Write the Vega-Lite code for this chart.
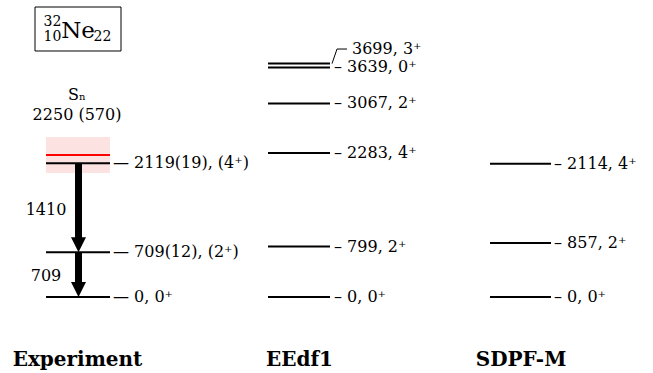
{
  "$schema": "https://vega.github.io/schema/vega-lite/v6.json",
  "width": 653,
  "height": 373,
  "padding": 0,
  "autosize": {"type": "fit", "contains": "padding"},
  "config": {"view": {"stroke": null}},
  "background": "white",
  "layer": [
    {
      "data": {"values": [{"x0": 46, "x1": 110, "lo": 1965, "hi": 2535}]},
      "mark": {"type": "rect", "color": "#fde2e2"},
      "encoding": {
        "x": {"field": "x0", "type": "quantitative", "scale": {"domain": [0, 653], "nice": false, "zero": false}, "axis": null},
        "x2": {"field": "x1"},
        "y": {"field": "lo", "type": "quantitative", "scale": {"domain": [-1204, 4707], "nice": false, "zero": false}, "axis": null},
        "y2": {"field": "hi"}
      }
    },
    {
      "data": {"values": [
        {"model": "Experiment", "x0": 46, "x1": 110, "energy": 0},
        {"model": "Experiment", "x0": 46, "x1": 110, "energy": 709},
        {"model": "Experiment", "x0": 46, "x1": 110, "energy": 2119},
        {"model": "EEdf1", "x0": 268, "x1": 330, "energy": 0},
        {"model": "EEdf1", "x0": 268, "x1": 330, "energy": 799},
        {"model": "EEdf1", "x0": 268, "x1": 330, "energy": 2283},
        {"model": "EEdf1", "x0": 268, "x1": 330, "energy": 3067},
        {"model": "EEdf1", "x0": 268, "x1": 330, "energy": 3639},
        {"model": "EEdf1", "x0": 268, "x1": 330, "energy": 3699},
        {"model": "SDPF-M", "x0": 490, "x1": 551, "energy": 0},
        {"model": "SDPF-M", "x0": 490, "x1": 551, "energy": 857},
        {"model": "SDPF-M", "x0": 490, "x1": 551, "energy": 2114}
      ]},
      "mark": {"type": "rule", "color": "black", "strokeWidth": 2},
      "encoding": {
        "x": {"field": "x0", "type": "quantitative"},
        "x2": {"field": "x1"},
        "y": {"field": "energy", "type": "quantitative"}
      }
    },
    {
      "data": {"values": [{"x0": 46, "x1": 110, "energy": 2250}]},
      "mark": {"type": "rule", "color": "#ff0000", "strokeWidth": 2},
      "encoding": {
        "x": {"field": "x0", "type": "quantitative"},
        "x2": {"field": "x1"},
        "y": {"field": "energy", "type": "quantitative"}
      }
    },
    {
      "data": {"values": [
        {"x": 78.5, "from": 2119, "to": 709},
        {"x": 78.5, "from": 709, "to": 0}
      ]},
      "mark": {"type": "rule", "color": "black", "strokeWidth": 7, "y2Offset": -12},
      "encoding": {
        "x": {"field": "x", "type": "quantitative"},
        "y": {"field": "from", "type": "quantitative"},
        "y2": {"field": "to"}
      }
    },
    {
      "data": {"values": [
        {"x": 78.5, "to": 709},
        {"x": 78.5, "to": 0}
      ]},
      "mark": {"type": "point", "shape": "M-1,-1L1,-1L0,1Z", "filled": true, "color": "black", "opacity": 1, "size": 225, "yOffset": -7.5, "strokeWidth": 0},
      "encoding": {
        "x": {"field": "x", "type": "quantitative"},
        "y": {"field": "to", "type": "quantitative"}
      }
    },
    {
      "data": {"values": [
        {"x": 46, "energy": 1380, "label": "1410"},
        {"x": 46, "energy": 335, "label": "709"}
      ]},
      "mark": {"type": "text", "font": "DejaVu Serif", "color": "black", "fontSize": 16, "align": "center", "baseline": "middle"},
      "encoding": {
        "x": {"field": "x", "type": "quantitative"},
        "y": {"field": "energy", "type": "quantitative"},
        "text": {"field": "label"}
      }
    },
    {
      "data": {"values": [
        {"x": 113, "energy": 0, "label": "— 0, 0⁺"},
        {"x": 113, "energy": 709, "label": "— 709(12), (2⁺)"},
        {"x": 113, "energy": 2119, "label": "— 2119(19), (4⁺)"},
        {"x": 334, "energy": 0, "label": "– 0, 0⁺"},
        {"x": 334, "energy": 799, "label": "– 799, 2⁺"},
        {"x": 334, "energy": 2283, "label": "– 2283, 4⁺"},
        {"x": 334, "energy": 3067, "label": "– 3067, 2⁺"},
        {"x": 334, "energy": 3639, "label": "– 3639, 0⁺"},
        {"x": 554, "energy": 0, "label": "– 0, 0⁺"},
        {"x": 554, "energy": 857, "label": "– 857, 2⁺"},
        {"x": 554, "energy": 2114, "label": "– 2114, 4⁺"}
      ]},
      "mark": {"type": "text", "font": "DejaVu Serif", "color": "black", "fontSize": 16, "align": "left", "baseline": "middle"},
      "encoding": {
        "x": {"field": "x", "type": "quantitative"},
        "y": {"field": "energy", "type": "quantitative"},
        "text": {"field": "label"}
      }
    },
    {
      "data": {"values": [
        {"x": 332, "energy": 3699, "k": 1},
        {"x": 337, "energy": 3930, "k": 2},
        {"x": 347, "energy": 3930, "k": 3}
      ]},
      "mark": {"type": "line", "color": "black", "strokeWidth": 1},
      "encoding": {
        "x": {"field": "x", "type": "quantitative"},
        "y": {"field": "energy", "type": "quantitative"},
        "order": {"field": "k"}
      }
    },
    {
      "data": {"values": [{"x": 352, "energy": 3930, "label": "3699, 3⁺"}]},
      "mark": {"type": "text", "font": "DejaVu Serif", "color": "black", "fontSize": 16, "align": "left", "baseline": "middle"},
      "encoding": {
        "x": {"field": "x", "type": "quantitative"},
        "y": {"field": "energy", "type": "quantitative"},
        "text": {"field": "label"}
      }
    },
    {
      "data": {"values": [
        {"x": 77, "energy": 3200, "label": "Sₙ"},
        {"x": 77, "energy": 2880, "label": "2250 (570)"}
      ]},
      "mark": {"type": "text", "font": "DejaVu Serif", "color": "black", "fontSize": 16, "align": "center", "baseline": "middle"},
      "encoding": {
        "x": {"field": "x", "type": "quantitative"},
        "y": {"field": "energy", "type": "quantitative"},
        "text": {"field": "label"}
      }
    },
    {
      "data": {"values": [{"x0": 35, "x1": 121, "lo": 3899, "hi": 4596}]},
      "mark": {"type": "rect", "fill": "white", "stroke": "black", "strokeWidth": 1},
      "encoding": {
        "x": {"field": "x0", "type": "quantitative"},
        "x2": {"field": "x1"},
        "y": {"field": "lo", "type": "quantitative"},
        "y2": {"field": "hi"}
      }
    },
    {
      "data": {"values": [{"x": 78, "energy": 4105, "label": "Ne"}]},
      "mark": {"type": "text", "font": "DejaVu Serif", "color": "black", "fontSize": 23, "align": "center", "baseline": "alphabetic"},
      "encoding": {
        "x": {"field": "x", "type": "quantitative"},
        "y": {"field": "energy", "type": "quantitative"},
        "text": {"field": "label"}
      }
    },
    {
      "data": {"values": [
        {"x": 52.5, "energy": 4358, "label": "32"},
        {"x": 52.5, "energy": 4113, "label": "10"},
        {"x": 102.5, "energy": 4113, "label": "22"}
      ]},
      "mark": {"type": "text", "font": "DejaVu Serif", "color": "black", "fontSize": 14, "align": "center", "baseline": "middle"},
      "encoding": {
        "x": {"field": "x", "type": "quantitative"},
        "y": {"field": "energy", "type": "quantitative"},
        "text": {"field": "label"}
      }
    },
    {
      "data": {"values": [
        {"x": 77.5, "energy": -995, "label": "Experiment"},
        {"x": 299.5, "energy": -995, "label": "EEdf1"},
        {"x": 521, "energy": -995, "label": "SDPF-M"}
      ]},
      "mark": {"type": "text", "font": "DejaVu Serif", "color": "black", "fontWeight": "bold", "fontSize": 20, "align": "center", "baseline": "middle"},
      "encoding": {
        "x": {"field": "x", "type": "quantitative"},
        "y": {"field": "energy", "type": "quantitative"},
        "text": {"field": "label"}
      }
    }
  ]
}
